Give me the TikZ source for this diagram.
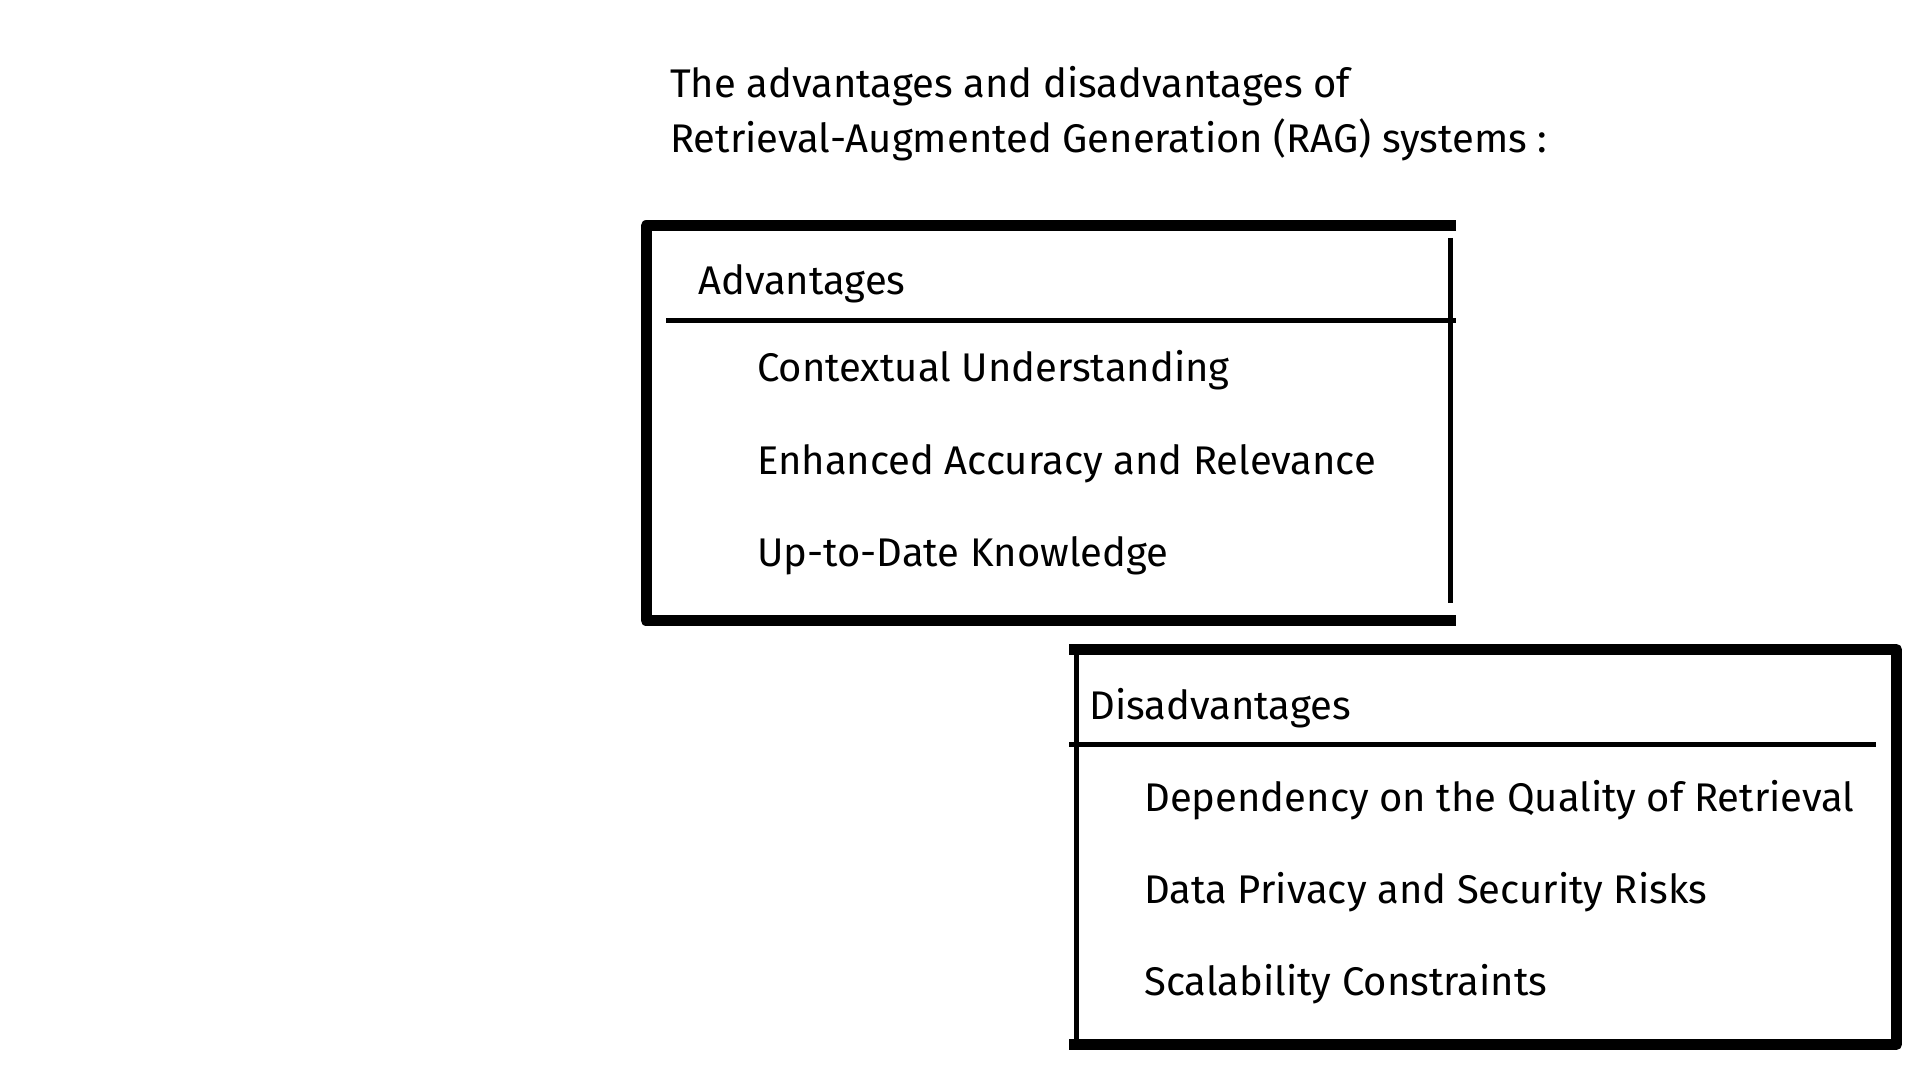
\documentclass[tikz,border=0pt]{standalone}
\usepackage{fontspec}
\setmainfont{Fira Sans}
\usepackage{tikz}

\begin{document}
\begin{tikzpicture}[x=0.75pt,y=0.75pt,yscale=-1,
  thickframe/.style={line width=8.25pt,line join=round,line cap=butt},
  thinrule/.style={line width=3.75pt,line cap=butt},
  label/.style={anchor=base west,inner sep=0pt,font=\fontsize{30}{36}\selectfont}]
\path[use as bounding box] (0,0) rectangle (1920,1080);

% Text Node
\node[label] (title1) at (670,98) {The advantages and disadvantages of};
% Text Node
\node[label] (title2) at (670,153) {Retrieval-Augmented Generation (RAG) systems :};

%Advantages box
\draw[thickframe] (1456,226) -- (646,226) -- (646,620.5) -- (1456,620.5) ;
\draw[thinrule] (1450,238) -- (1450,603) ;
\draw[thinrule] (666,320.5) -- (1456,320.5) ;

% Text Node
\node[label] (adv) at (698,295) {Advantages};
\node[label] (adv1) at (757,382) {Contextual Understanding};
\node[label] (adv2) at (757,474) {Enhanced Accuracy and Relevance};
\node[label] (adv3) at (757,566) {Up-to-Date Knowledge};

%Disadvantages box
\draw[thickframe] (1069,649.5) -- (1896.5,649.5) -- (1896.5,1044.5) -- (1069,1044.5) ;
\draw[thinrule] (1076.5,655) -- (1076.5,1044.5) ;
\draw[thinrule] (1069,744.5) -- (1876,744.5) ;

% Text Node
\node[label] (dis) at (1089,719) {Disadvantages};
\node[label] (dis1) at (1144,811) {Dependency on the Quality of Retrieval};
\node[label] (dis2) at (1144,903) {Data Privacy and Security Risks};
\node[label] (dis3) at (1144,995) {Scalability Constraints};

\end{tikzpicture}
\end{document}
